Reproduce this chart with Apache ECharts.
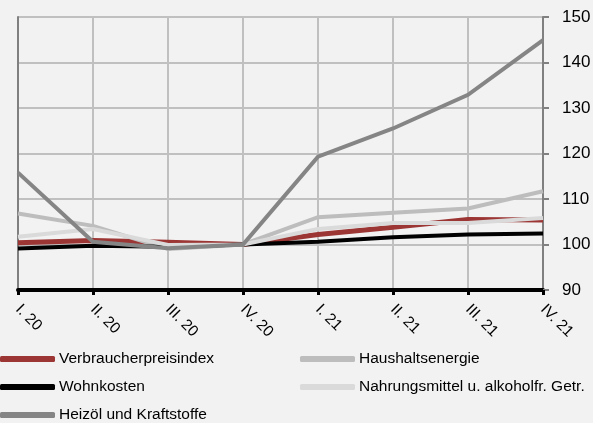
<!DOCTYPE html>
<html>
<head>
<meta charset="utf-8">
<script src="https://cdn.jsdelivr.net/npm/echarts@6/dist/echarts.min.js"></script>
<style>
  html, body { margin: 0; padding: 0; background: #f2f2f2; }
  #chart { width: 593px; height: 423px; }
</style>
</head>
<body>
<div id="chart"></div>
<script>
// Quarters (index, IV. 2020 = 100)
const quarters = ['I. 20', 'II. 20', 'III. 20', 'IV. 20', 'I. 21', 'II. 21', 'III. 21', 'IV. 21'];
const vpi = [100.4, 100.9, 100.5, 100.0, 102.2, 103.8, 105.5, 105.4];
const haushaltsenergie = [106.8, 104.1, 99.0, 100.0, 106.0, 107.0, 107.9, 111.7];
const wohnkosten = [99.1, 99.7, 99.5, 100.0, 100.6, 101.6, 102.2, 102.4];
const nahrungsmittel = [101.7, 103.4, 99.9, 100.0, 103.4, 104.7, 104.7, 105.8];
const heizoel = [115.8, 100.6, 99.2, 100.0, 119.3, 125.5, 132.9, 144.9];
const yTicks = { min: 90, max: 150, step: 10 };

const font = '"Liberation Sans", Arial, sans-serif';

function line(name, data, color, width) {
  return {
    name, type: 'line', data,
    symbol: 'none',
    lineStyle: { color, width, join: 'miter' },
    itemStyle: { color },
    z: 2
  };
}

const legendBase = {
  top: 351, orient: 'vertical', padding: 0,
  itemWidth: 55, itemHeight: 6, itemGap: 12,
  icon: 'roundRect',
  textStyle: { color: '#000', fontFamily: font, fontSize: 15.5, padding: [0, 0, 0, -1] }
};

const chart = echarts.init(document.getElementById('chart'));
chart.setOption({
  backgroundColor: '#f2f2f2',
  animation: false,
  grid: { left: 18, right: 50, top: 17, bottom: 133, containLabel: false, outerBoundsMode: 'none' },
  xAxis: {
    type: 'category',
    data: quarters,
    boundaryGap: false,
    axisLine: { onZero: false, lineStyle: { color: '#000', width: 4 } },
    axisTick: { show: true, length: 5, lineStyle: { color: '#000', width: 3 } },
    axisLabel: { rotate: -45, color: '#000', fontFamily: font, fontSize: 15.5, margin: 17 },
    splitLine: { show: true, lineStyle: { color: '#c0c0c0', width: 2 } }
  },
  yAxis: [{
    type: 'value',
    position: 'right',
    min: yTicks.min, max: yTicks.max, interval: yTicks.step,
    axisLine: { show: true, lineStyle: { color: '#808080', width: 2 } },
    axisTick: { show: true, length: 6, lineStyle: { color: '#808080', width: 2 } },
    axisLabel: { color: '#000', fontFamily: font, fontSize: 17, margin: 19 },
    splitLine: { show: true, lineStyle: { color: '#c0c0c0', width: 2 } }
  }, {
    type: 'value',
    position: 'left',
    min: yTicks.min, max: yTicks.max, interval: yTicks.step,
    axisLine: { show: true, lineStyle: { color: '#808080', width: 2 } },
    axisTick: { show: false },
    axisLabel: { show: false },
    splitLine: { show: false }
  }],
  legend: [
    Object.assign({}, legendBase, {
      left: 0,
      data: ['Verbraucherpreisindex', 'Wohnkosten', 'Heizöl und Kraftstoffe']
    }),
    Object.assign({}, legendBase, {
      left: 300,
      data: ['Haushaltsenergie', 'Nahrungsmittel u. alkoholfr. Getr.']
    })
  ],
  series: [
    line('Verbraucherpreisindex', vpi, '#9b3634', 5),
    line('Haushaltsenergie', haushaltsenergie, '#bdbdbd', 4),
    line('Wohnkosten', wohnkosten, '#000000', 4),
    line('Nahrungsmittel u. alkoholfr. Getr.', nahrungsmittel, '#dadada', 4),
    line('Heizöl und Kraftstoffe', heizoel, '#858585', 4)
  ]
});
</script>
</body>
</html>
